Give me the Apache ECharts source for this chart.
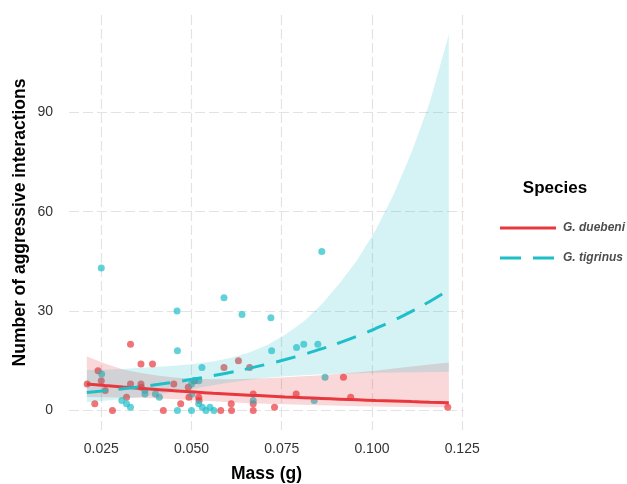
<!DOCTYPE html>
<html>
<head>
<meta charset="utf-8">
<script src="https://cdn.jsdelivr.net/npm/echarts@6/dist/echarts.min.js"></script>
<style>
html,body{margin:0;padding:0;background:#fff;}
#chart{width:627px;height:484px;}
</style>
</head>
<body>
<div id="chart"></div>
<script>
// ---------- data ----------
const speciesNames = ['G. duebeni', 'G. tigrinus'];
const xTicks = [0.025, 0.050, 0.075, 0.100, 0.125];
const yTicks = [0, 30, 60, 90];

// scatter points [mass, interactions]
const duebeniPoints = [
  [0.0211, 8], [0.0232, 2], [0.0241, 12], [0.0250, 9], [0.0261, 6], [0.0281, 0],
  [0.0320, 4], [0.0331, 20], [0.0331, 8], [0.0360, 14], [0.0360, 8], [0.0361, 7],
  [0.0392, 14], [0.0422, 0], [0.0451, 8], [0.0470, 2], [0.0491, 7], [0.0493, 4],
  [0.0509, 9], [0.0520, 4], [0.0521, 3], [0.0581, 0], [0.0590, 13], [0.0610, 2],
  [0.0611, 0], [0.0630, 15], [0.0661, 13], [0.0671, 5], [0.0671, 2], [0.0671, 0],
  [0.0730, 1], [0.0790, 5], [0.0921, 10], [0.0941, 4], [0.1210, 1]
];
const tigrinusPoints = [
  [0.0250, 43], [0.0251, 11], [0.0307, 3], [0.0320, 2], [0.0331, 1], [0.0371, 6],
  [0.0371, 5], [0.0400, 5], [0.0411, 4], [0.0460, 30], [0.0461, 18], [0.0461, 0],
  [0.0500, 0], [0.0500, 8], [0.0501, 5], [0.0507, 9], [0.0520, 9], [0.0520, 2],
  [0.0529, 13], [0.0530, 1], [0.0540, 0], [0.0551, 1], [0.0562, 0], [0.0590, 34],
  [0.0640, 29], [0.0671, 3], [0.0720, 28], [0.0722, 18], [0.0791, 19], [0.0811, 20],
  [0.0840, 3], [0.0850, 20], [0.0861, 48], [0.0870, 10]
];

// fitted curves and confidence bands, read at these masses
const fitMass = [0.021, 0.026, 0.031, 0.036, 0.041, 0.046, 0.051, 0.056, 0.061, 0.066, 0.071,
                 0.076, 0.081, 0.086, 0.091, 0.096, 0.101, 0.106, 0.111, 0.116, 0.1213];
const duebeniFit   = [8.0, 7.53, 7.08, 6.66, 6.27, 5.9, 5.55, 5.22, 4.91, 4.62, 4.35,
                      4.09, 3.85, 3.62, 3.41, 3.21, 3.01, 2.84, 2.67, 2.51, 2.35];
const duebeniUpper = [16.3, 14.2, 12.4, 11.3, 10.45, 9.9, 9.6, 9.45, 9.45, 9.55, 9.75,
                      10.0, 10.3, 10.65, 11.05, 11.5, 12.0, 12.7, 13.3, 13.9, 14.5];
const duebeniLower = [4.1, 4.0, 3.9, 3.8, 3.6, 3.35, 3.1, 2.8, 2.45, 2.2, 2.0,
                      1.85, 1.7, 1.6, 1.45, 1.3, 1.2, 1.1, 1.05, 1.0, 0.95];
const tigrinusFit   = [5.4, 5.94, 6.53, 7.18, 7.9, 8.69, 9.56, 10.51, 11.56, 12.71, 13.98,
                       15.37, 16.9, 18.59, 20.44, 22.48, 24.73, 27.2, 29.92, 32.9, 36.4];
const tigrinusUpper = [12.2, 12.3, 12.5, 12.9, 13.2, 13.6, 14.1, 14.8, 15.9, 17.5, 19.8,
                       22.9, 26.8, 32.0, 38.3, 45.6, 54.4, 65.2, 78.0, 93.0, 113.5];
const tigrinusLower = [2.5, 2.9, 3.45, 4.1, 4.85, 5.7, 6.65, 7.6, 8.55, 9.3, 9.9,
                       10.35, 10.66, 10.9, 11.07, 11.22, 11.35, 11.45, 11.55, 11.63, 11.71];

// ---------- styling ----------
const RED = '#E8383D';
const CYAN = '#1FBFC9';
const FONT = '"Liberation Sans", Arial, Helvetica, sans-serif';

function pairs(xsArr, ysArr) { return xsArr.map((x, i) => [x, ysArr[i]]); }

function ribbonSeries(name, upper, lower, fill, z) {
  return {
    name: name + ' band',
    type: 'custom',
    coordinateSystem: 'cartesian2d',
    silent: true,
    z: z,
    data: [[fitMass[0], lower[0]]],
    renderItem: function (params, api) {
      const pts = [];
      for (let i = 0; i < fitMass.length; i++) pts.push(api.coord([fitMass[i], upper[i]]));
      for (let i = fitMass.length - 1; i >= 0; i--) pts.push(api.coord([fitMass[i], lower[i]]));
      return { type: 'polygon', shape: { points: pts }, style: { fill: fill, stroke: null } };
    }
  };
}

const chart = echarts.init(document.getElementById('chart'), null, { renderer: 'canvas' });
const gridLine = { show: true, lineStyle: { color: '#E3E3E3', width: 1.2, type: [10, 4] } };

// legend keys (drawn as graphics)
const legendKeys = [
  { name: speciesNames[0], color: RED, dash: null, y: 228 },
  { name: speciesNames[1], color: CYAN, dash: [21, 12], y: 258 }
];
const legendGraphics = [{
  type: 'text', x: 555, y: 188, silent: true,
  style: { text: 'Species', textAlign: 'center', textVerticalAlign: 'middle',
           font: 'bold 17px ' + FONT, fill: '#000' }
}];
legendKeys.forEach(k => {
  legendGraphics.push({
    type: 'line', silent: true,
    shape: { x1: 500, y1: k.y, x2: 556, y2: k.y },
    style: { stroke: k.color, lineWidth: 3, lineDash: k.dash }
  });
  legendGraphics.push({
    type: 'text', x: 563, y: k.y, silent: true,
    style: { text: k.name, textAlign: 'left', textVerticalAlign: 'middle',
             font: 'italic bold 12px ' + FONT, fill: '#4d4d4d' }
  });
});

chart.setOption({
  animation: false,
  backgroundColor: '#ffffff',
  grid: { left: 69, top: 15, width: 395, height: 415, containLabel: false, outerBoundsMode: 'none' },
  xAxis: {
    type: 'value', min: 0.01606, max: 0.1255,
    name: 'Mass (g)', nameLocation: 'middle', nameGap: 35, nameMoveOverlap: false,
    nameTextStyle: { fontFamily: FONT, fontSize: 17.5, fontWeight: 'bold', color: '#000' },
    axisLine: { show: false }, axisTick: { show: false, customValues: xTicks },
    axisLabel: { customValues: xTicks, margin: 12, fontFamily: FONT, fontSize: 14, color: '#333',
                 formatter: v => v.toFixed(3) },
    splitLine: gridLine
  },
  yAxis: {
    type: 'value', min: -5.9, max: 119.4,
    name: 'Number of aggressive interactions', nameLocation: 'middle', nameGap: 40, nameMoveOverlap: false,
    nameTextStyle: { fontFamily: FONT, fontSize: 17.5, fontWeight: 'bold', color: '#000' },
    axisLine: { show: false }, axisTick: { show: false, customValues: yTicks },
    axisLabel: { customValues: yTicks, margin: 16, fontFamily: FONT, fontSize: 14, color: '#333' },
    splitLine: gridLine
  },
  graphic: legendGraphics,
  series: [
    { name: 'duebeni points', type: 'scatter', data: duebeniPoints, symbolSize: 7, z: 2,
      itemStyle: { color: RED, opacity: 0.7 }, silent: true },
    { name: 'tigrinus points', type: 'scatter', data: tigrinusPoints, symbolSize: 7, z: 2,
      itemStyle: { color: CYAN, opacity: 0.7 }, silent: true },
    ribbonSeries('G. duebeni', duebeniUpper, duebeniLower, 'rgba(232,56,61,0.2)', 3),
    ribbonSeries('G. tigrinus', tigrinusUpper, tigrinusLower, 'rgba(31,191,201,0.19)', 3),
    { name: speciesNames[0], type: 'line', data: pairs(fitMass, duebeniFit), smooth: true,
      symbol: 'none', z: 5, lineStyle: { color: RED, width: 3 }, itemStyle: { color: RED } },
    { name: speciesNames[1], type: 'line', data: pairs(fitMass, tigrinusFit), smooth: true,
      symbol: 'none', z: 5, lineStyle: { color: CYAN, width: 3, type: [20, 12] }, itemStyle: { color: CYAN } }
  ]
});
</script>
</body>
</html>
